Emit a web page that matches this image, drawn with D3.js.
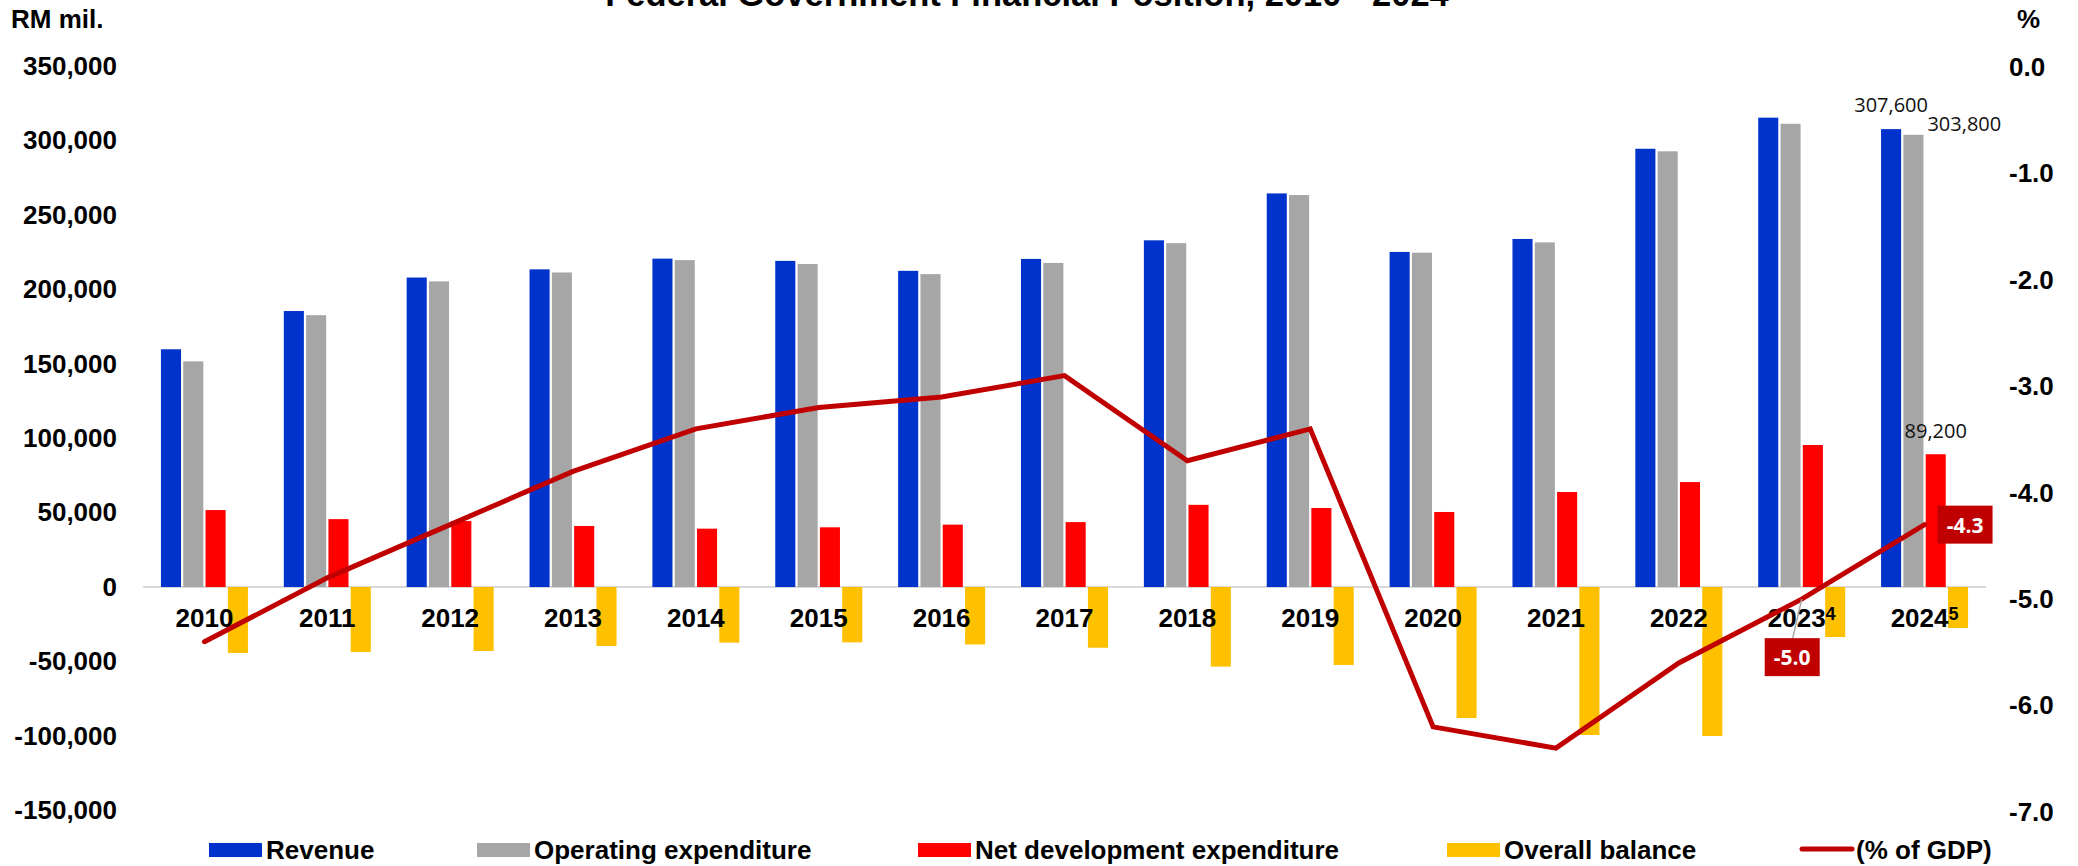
<!DOCTYPE html>
<html>
<head>
<meta charset="utf-8">
<script src="https://cdn.jsdelivr.net/npm/d3@7"></script>
<style>
  body { margin: 0; background: #fff; }
  svg { display: block; font-family: "Liberation Sans", Arial, sans-serif; }
</style>
</head>
<body>
<div id="chart"></div>
<script>
const years = ["2010", "2011", "2012", "2013", "2014", "2015", "2016", "2017", "2018", "2019", "2020", "2021", "2022", "2023", "2024"];
const yearNotes = { "2023": "4", "2024": "5" };

// RM mil.
const revenue = [159700, 185400, 207900, 213400, 220600, 219100, 212400, 220400, 232900, 264400, 225100, 233800, 294400, 315300, 307600];
const operatingExp = [151600, 182600, 205300, 211300, 219600, 217000, 210200, 217700, 231000, 263300, 224600, 231500, 292700, 311200, 303800];
const netDevExp = [51700, 45600, 44300, 41000, 39200, 40100, 41900, 43600, 55200, 53100, 50400, 63800, 70500, 95400, 89200];
const overallBalance = [-44300, -43700, -43000, -39600, -37400, -37200, -38600, -40800, -53500, -52400, -88000, -99400, -100100, -33600, -27500];
// % of GDP
const balancePctGdp = [-5.4, -4.8, -4.3, -3.8, -3.4, -3.2, -3.1, -2.9, -3.7, -3.4, -6.2, -6.4, -5.6, -5.0, -4.3];

const leftTicks = [-150000, -100000, -50000, 0, 50000, 100000, 150000, 200000, 250000, 300000, 350000];
const rightTicks = [-7, -6, -5, -4, -3, -2, -1, 0];

const seriesNames = ["Revenue", "Operating expenditure", "Net development expenditure", "Overall balance"];
const seriesColors = ["#0033CC", "#A6A6A6", "#FF0000", "#FFC000"];
const lineName = "(% of GDP)";
const lineColor = "#C00000";

const title = "Federal Government Financial Position, 2010 - 2024";

const width = 2078, height = 866;
const plot = { left: 143, right: 1986 };
const groupWidth = 87;
const boldFont = "'Liberation Sans', Arial, sans-serif";
const labelFont = "'Open Sans', 'DejaVu Sans', sans-serif";

const locale = d3.formatLocale({ decimal: ".", thousands: ",", grouping: [3], currency: ["", ""], minus: "-" });
const fmtThousands = locale.format(",");
const fmtPct = locale.format(".1f");

const rows = years.map((year, i) => ({
  year,
  values: [revenue[i], operatingExp[i], netDevExp[i], overallBalance[i]],
  pct: balancePctGdp[i]
}));

const svg = d3.select("#chart").append("svg")
  .attr("width", width)
  .attr("height", height);

const x0 = d3.scaleBand().domain(years).range([plot.left, plot.right]);
const x1 = d3.scaleBand()
  .domain(seriesNames)
  .range([(x0.bandwidth() - groupWidth) / 2, (x0.bandwidth() + groupWidth) / 2])
  .paddingInner(0.1);
const yLeft = d3.scaleLinear().domain([-150000, 350000]).range([810.3, 66]);
const yRight = d3.scaleLinear().domain([-7, 0]).range([812, 67]);
const cx = (year) => x0(year) + x0.bandwidth() / 2;

// title (sits partly above the visible area, like the source)
svg.append("text")
  .attr("x", 1027)
  .attr("y", 6)
  .attr("text-anchor", "middle")
  .attr("font-family", boldFont)
  .attr("font-weight", "bold")
  .attr("font-size", 34.5)
  .text(title);

svg.append("text")
  .attr("x", 11).attr("y", 28)
  .attr("font-family", boldFont).attr("font-weight", "bold").attr("font-size", 26)
  .text("RM mil.");

svg.append("text")
  .attr("x", 2017).attr("y", 28)
  .attr("font-family", boldFont).attr("font-weight", "bold").attr("font-size", 26)
  .text("%");

// zero line
svg.append("line")
  .attr("x1", plot.left).attr("x2", plot.right)
  .attr("y1", yLeft(0)).attr("y2", yLeft(0))
  .attr("stroke", "#D9D9D9")
  .attr("stroke-width", 2);

// axes
function styleAxis(g) {
  g.select(".domain").remove();
  g.selectAll("text")
    .attr("font-family", boldFont)
    .attr("font-weight", "bold")
    .attr("font-size", 26)
    .attr("fill", "#000");
}

svg.append("g")
  .attr("transform", `translate(${plot.left},0)`)
  .call(d3.axisLeft(yLeft).tickValues(leftTicks).tickSize(0).tickPadding(26).tickFormat(fmtThousands))
  .call(styleAxis);

svg.append("g")
  .attr("transform", `translate(${plot.right},0)`)
  .call(d3.axisRight(yRight).tickValues(rightTicks).tickSize(0).tickPadding(23).tickFormat(fmtPct))
  .call(styleAxis);

// bars
const group = svg.append("g").selectAll("g")
  .data(rows)
  .enter()
  .append("g")
  .attr("transform", (d) => `translate(${x0(d.year)},0)`);

group.selectAll("rect")
  .data((d) => d.values.map((v, i) => ({ name: seriesNames[i], color: seriesColors[i], value: v })))
  .enter()
  .append("rect")
  .attr("x", (d) => x1(d.name))
  .attr("y", (d) => yLeft(Math.max(0, d.value)))
  .attr("width", x1.bandwidth())
  .attr("height", (d) => Math.abs(yLeft(d.value) - yLeft(0)))
  .attr("fill", (d) => d.color);

// category labels
const xLabels = svg.append("g").selectAll("text")
  .data(years)
  .enter()
  .append("text")
  .attr("x", (d) => cx(d))
  .attr("y", 627)
  .attr("text-anchor", "middle")
  .attr("font-family", boldFont)
  .attr("font-weight", "bold")
  .attr("font-size", 26);
xLabels.append("tspan").text((d) => d);
xLabels.filter((d) => yearNotes[d])
  .append("tspan")
  .attr("dy", -7)
  .attr("font-size", 18)
  .text((d) => yearNotes[d]);

// % of GDP line
const line = d3.line()
  .x((d) => cx(d.year))
  .y((d) => yRight(d.pct));

svg.append("path")
  .datum(rows)
  .attr("d", line)
  .attr("fill", "none")
  .attr("stroke", lineColor)
  .attr("stroke-width", 5)
  .attr("stroke-linecap", "round");

// data labels for the last year
const last = rows[rows.length - 1];
const prev = rows[rows.length - 2];
const barCenter = (row, i) => x0(row.year) + x1(seriesNames[i]) + x1.bandwidth() / 2;

svg.append("text")
  .attr("x", barCenter(last, 0))
  .attr("y", yLeft(last.values[0]) - 17)
  .attr("text-anchor", "middle")
  .attr("font-family", labelFont).attr("font-size", 20).attr("fill", "#111")
  .text(fmtThousands(last.values[0]));

svg.append("text")
  .attr("x", x0(last.year) + x1(seriesNames[1]) + x1.bandwidth() + 4)
  .attr("y", yLeft(last.values[1]) - 4)
  .attr("font-family", labelFont).attr("font-size", 20).attr("fill", "#111")
  .text(fmtThousands(last.values[1]));

svg.append("text")
  .attr("x", barCenter(last, 2))
  .attr("y", yLeft(last.values[2]) - 16)
  .attr("text-anchor", "middle")
  .attr("font-family", labelFont).attr("font-size", 20).attr("fill", "#111")
  .text(fmtThousands(last.values[2]));

// callout boxes on the line
function callout(xLeft, yTop, text) {
  svg.append("rect")
    .attr("x", xLeft).attr("y", yTop)
    .attr("width", 55).attr("height", 38)
    .attr("fill", lineColor);
  svg.append("text")
    .attr("x", xLeft + 27.5).attr("y", yTop + 27)
    .attr("text-anchor", "middle")
    .attr("font-family", labelFont).attr("font-weight", "bold").attr("font-size", 21)
    .attr("fill", "#fff")
    .text(text);
}

const pPrev = [cx(prev.year), yRight(prev.pct)];
svg.append("line")
  .attr("x1", pPrev[0]).attr("y1", pPrev[1])
  .attr("x2", pPrev[0] - 9).attr("y2", pPrev[1] + 39)
  .attr("stroke", "#A6A6A6").attr("stroke-width", 1.5);
callout(pPrev[0] - 37, pPrev[1] + 39, fmtPct(prev.pct));

const pLast = [cx(last.year), yRight(last.pct)];
callout(pLast[0] + 13, pLast[1] - 19, fmtPct(last.pct));

// legend
const legendX = [209, 477, 918, 1447, 1800];
const legendY = 850;
const legend = svg.append("g");
seriesNames.forEach((name, i) => {
  legend.append("rect")
    .attr("x", legendX[i]).attr("y", legendY - 7)
    .attr("width", 53).attr("height", 14)
    .attr("fill", seriesColors[i]);
  legend.append("text")
    .attr("x", legendX[i] + 57).attr("y", legendY + 9)
    .attr("font-family", boldFont).attr("font-weight", "bold").attr("font-size", 26)
    .text(name);
});
legend.append("line")
  .attr("x1", legendX[4] + 2).attr("x2", legendX[4] + 52)
  .attr("y1", legendY - 1).attr("y2", legendY - 1)
  .attr("stroke", lineColor).attr("stroke-width", 5)
  .attr("stroke-linecap", "round");
legend.append("text")
  .attr("x", legendX[4] + 56).attr("y", legendY + 9)
  .attr("font-family", boldFont).attr("font-weight", "bold").attr("font-size", 26)
  .text(lineName);
</script>
</body>
</html>
